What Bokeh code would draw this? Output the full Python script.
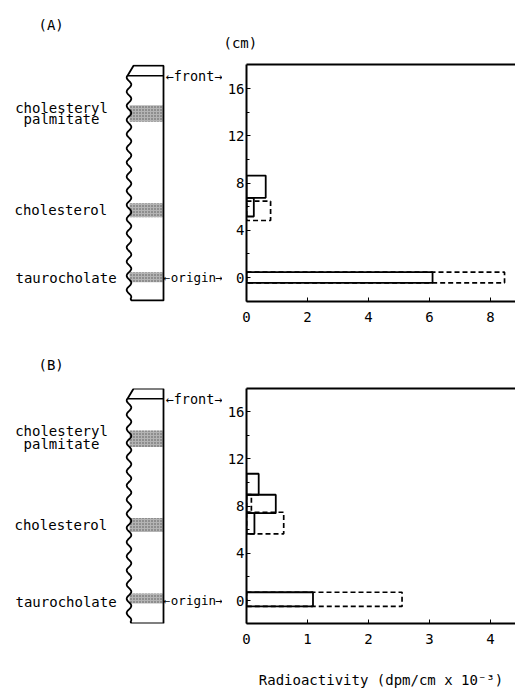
import numpy as np
from bokeh.plotting import figure
from bokeh.layouts import column, row
from bokeh.models import Range1d, LinearAxis, FixedTicker
from bokeh.core.properties import value
from bokeh.embed import file_html
from bokeh.resources import INLINE

FONT = "DejaVu Sans Mono"

# ---------------- data (radioactivity, dpm/cm x 10^-3, by TLC band in cm) -------------
a_solid_lo = [-0.45, 5.17, 6.75]
a_solid_hi = [0.45, 6.75, 8.64]
a_solid_val = [6.10, 0.24, 0.63]
a_dash_lo = [-0.45, 4.83]
a_dash_hi = [0.45, 6.47]
a_dash_val = [8.46, 0.79]

b_solid_lo = [-0.50, 5.65, 7.40, 8.96]
b_solid_hi = [0.70, 7.40, 8.96, 10.74]
b_solid_val = [1.09, 0.13, 0.48, 0.20]
b_dash_lo = [-0.50, 5.65, 7.48]
b_dash_hi = [0.70, 7.48, 8.98]
b_dash_val = [2.55, 0.61, 0.08]

a_xticks = [0, 2, 4, 6, 8]
b_xticks = [0, 1, 2, 3, 4]
y_ticks = [0, 4, 8, 12, 16]
y_minor = [2, 6, 10, 14]

# TLC plate drawing (cm)
plate_top = 17.95
plate_bottom = -1.95
front_cm = 17.1
a_band_lo = [13.2, 5.1, -0.4]
a_band_hi = [14.6, 6.3, 0.45]
b_band_lo = [13.0, 5.8, -0.25]
b_band_hi = [14.4, 7.0, 0.6]
a_label_y = [14.4, 13.4, 5.7, 0.0]
b_label_y = [14.4, 13.3, 6.4, -0.1]

PX_CM = 11.8
X_SPLIT = 222      # page x where the histogram canvas begins
FRAME_LEFT = 246   # page x of the histogram y axis
PAGE_W = 515
NB = "\u00a0"


def txt(fig, x, y, t, size="14px", align="left"):
    fig.text(x=[x], y=[y], text=[t], text_font=value(FONT), text_font_size=size,
             text_align=align, text_baseline="middle", text_color="black")


def style_title(t, offset, standoff):
    t.text_font = FONT
    t.text_font_size = "14px"
    t.text_font_style = "normal"
    t.text_color = "black"
    t.align = "left"
    t.offset = offset
    t.standoff = standoff


def make_panel(tag, top, height, y0, ftop, fbot, xscale, xticks,
               s_lo, s_hi, s_val, d_lo, d_hi, d_val,
               band_lo, band_hi, label_y, cm_label, xlabel, tag_lines):
    ylo = (y0 - fbot) / PX_CM
    yhi = (y0 - ftop) / PX_CM
    bt = ftop - top
    bb = top + height - fbot

    # ---- plate figure (left) ----
    s = figure(width=X_SPLIT, height=height, x_range=Range1d(0, X_SPLIT),
               y_range=Range1d(ylo, yhi), title=tag + ("\n" + NB) * tag_lines,
               toolbar_location=None, output_backend="svg",
               min_border_left=0, min_border_right=0,
               min_border_top=bt, min_border_bottom=bb,
               x_axis_location=None, y_axis_location=None,
               outline_line_color=None, background_fill_color="white",
               border_fill_color="white")
    style_title(s.title, 38, 0)
    s.grid.visible = False
    s.quad(left=129, right=163, bottom=band_lo, top=band_hi,
           fill_color="#b4b4b4", line_color=None,
           hatch_pattern="dot", hatch_color="#555555", hatch_scale=3, hatch_weight=1)
    wy = np.linspace(plate_bottom + 0.15, front_cm, 300)
    wx = 128.5 + 2.3 * np.sin(2 * np.pi * (wy - plate_bottom) / 1.2)
    xs = [163, 131] + list(wx) + [127, 133, 163]
    ys = [plate_bottom, plate_bottom] + list(wy) + [front_cm, plate_top, plate_top]
    s.patch(xs, ys, fill_color=None, line_color="black", line_width=1.8)
    s.line([127, 163], [front_cm, front_cm], line_color="black", line_width=1.5)
    txt(s, 61, label_y[0], "cholesteryl", align="center")
    txt(s, 61, label_y[1], "palmitate", align="center")
    txt(s, 14, label_y[2], "cholesterol")
    txt(s, 15, label_y[3], "taurocholate")
    txt(s, X_SPLIT, front_cm, "\u2190front\u2192", size="13.5px", align="right")
    txt(s, X_SPLIT, 0.0, "\u2192", size="12px", align="right")
    txt(s, X_SPLIT - 6.5, 0.0, "origin", size="12.5px", align="right")
    txt(s, X_SPLIT - 52.0, 0.0, "\u2190", size="11.5px", align="right")

    # ---- histogram figure (right) ----
    xend = (PAGE_W - FRAME_LEFT) / xscale
    h = figure(width=PAGE_W - X_SPLIT, height=height, x_range=Range1d(0, xend),
               y_range=Range1d(ylo, yhi), title="(cm)" if cm_label else None,
               toolbar_location=None, output_backend="svg",
               min_border_left=FRAME_LEFT - X_SPLIT, min_border_right=0,
               min_border_top=bt, min_border_bottom=bb,
               outline_line_color=None, background_fill_color="white",
               border_fill_color="white")
    if cm_label:
        style_title(h.title, -23, 28)
    h.grid.visible = False
    h.xaxis.ticker = FixedTicker(ticks=xticks)
    h.yaxis.ticker = FixedTicker(ticks=y_ticks, minor_ticks=y_minor)
    for ax in (h.xaxis[0], h.yaxis[0]):
        ax.axis_line_width = 2
        ax.axis_line_color = "black"
        ax.major_tick_in = 4
        ax.major_tick_out = 0
        ax.minor_tick_in = 3
        ax.minor_tick_out = 0
        ax.major_tick_line_color = "black"
        ax.minor_tick_line_color = "black"
        ax.major_label_text_font = FONT
        ax.major_label_text_font_size = "14px"
        ax.major_label_text_color = "black"
    h.xaxis.major_label_standoff = 10
    h.yaxis.major_label_standoff = 2
    if xlabel:
        h.xaxis.axis_label = "Radioactivity (dpm/cm x 10\u207b\u00b3)"
        h.xaxis.axis_label_text_font = FONT
        h.xaxis.axis_label_text_font_size = "14px"
        h.xaxis.axis_label_text_font_style = "normal"
        h.xaxis.axis_label_text_color = "black"
        h.xaxis.axis_label_standoff = 25
    top_ax = LinearAxis(ticker=FixedTicker(ticks=[]), axis_line_width=2,
                        axis_line_color="black", major_tick_in=0, major_tick_out=0,
                        minor_tick_in=0, minor_tick_out=0,
                        major_label_text_font_size="0px")
    h.add_layout(top_ax, "above")

    h.quad(left=0, right=d_val, bottom=d_lo, top=d_hi, fill_color=None,
           line_color="black", line_width=1.7, line_dash="5 3")
    h.quad(left=0, right=s_val, bottom=s_lo, top=s_hi, fill_color=None,
           line_color="black", line_width=1.8)
    return row(s, h)


panel_a = make_panel("(A)", 0, 345, 277, 64, 301, 30.5, a_xticks,
                     a_solid_lo, a_solid_hi, a_solid_val,
                     a_dash_lo, a_dash_hi, a_dash_val,
                     a_band_lo, a_band_hi, a_label_y, True, False, 2)
panel_b = make_panel("(B)", 345, 348, 600, 388, 623, 61.0, b_xticks,
                     b_solid_lo, b_solid_hi, b_solid_val,
                     b_dash_lo, b_dash_hi, b_dash_val,
                     b_band_lo, b_band_hi, b_label_y, False, True, 1)

layout = column(panel_a, panel_b)
open("out.html", "w").write(file_html(layout, INLINE))
